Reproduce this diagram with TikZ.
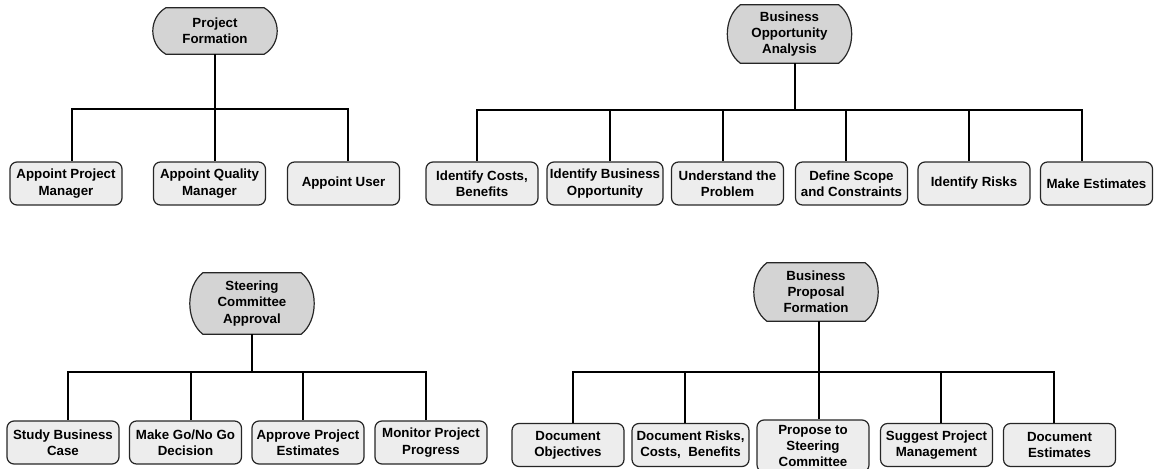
\documentclass[tikz,border=0pt]{standalone}
\usepackage{fontspec}
\setmainfont{Liberation Sans}
\usetikzlibrary{calc,backgrounds}

\definecolor{boxfill}{HTML}{EDEDED}
\definecolor{headfill}{HTML}{D4D4D4}

\tikzset{
  txt/.style={font=\fontsize{13.3}{16.2}\selectfont\bfseries, align=center, inner sep=0pt},
  task/.style={txt, draw=black!85, line width=1.2pt, fill=boxfill, rounded corners=7pt,
               minimum width=112pt, minimum height=43pt},
  head/.style={txt, minimum width=124pt},
  headline/.style={draw=black!85, line width=1.2pt, fill=headfill},
  conn/.style={line width=2.4pt, line join=miter, line cap=butt}
}

% flat-topped outline with bulging sides around a head node
\newcommand\headshape[2][13pt]{%
  \path[headline] let \p1=(#2.north west), \p2=(#2.south east), \n1={0.22*(\y1-\y2)} in
    (\x1+#1,\y1) -- (\x2-#1,\y1)
    .. controls (\x2+#1/3,\y1-\n1) and (\x2+#1/3,\y2+\n1) .. (\x2-#1,\y2)
    -- (\x1+#1,\y2)
    .. controls (\x1-#1/3,\y2+\n1) and (\x1-#1/3,\y1-\n1) .. cycle;}

\begin{document}
\begin{tikzpicture}[x=1pt,y=-1pt]
\useasboundingbox (0,0) rectangle (1155,468);

% ---------- Project Formation ----------
\node[head, minimum height=46pt] (h1) at (215,31) {Project\\Formation};
\node[task] (a1) at (66,183.5)  {Appoint Project\\Manager};
\node[task] (a2) at (209.5,183.5) {Appoint Quality\\Manager};
\node[task] (a3) at (343.5,183.5) {Appoint User};

% ---------- Business Opportunity Analysis ----------
\node[head, minimum height=58pt] (h2) at (789.5,34) {Business\\Opportunity\\Analysis};
\node[task] (b1) at (482,183.5)   {Identify Costs,\\Benefits};
\node[task, minimum width=116pt] (b2) at (605,183.5) {Identify Business\\Opportunity};
\node[task] (b3) at (727.5,183.5) {Understand the\\Problem};
\node[task] (b4) at (851.5,183.5) {Define Scope\\and Constraints};
\node[task] (b5) at (974,183.5)   {Identify Risks};
\node[task] (b6) at (1096.5,183.5) {Make Estimates};

% ---------- Steering Committee Approval ----------
\node[head, minimum height=61pt] (h3) at (252,303.5) {Steering\\Committee\\Approval};
\node[task] (c1) at (63,442.5)    {Study Business\\Case};
\node[task] (c2) at (185.5,442.5) {Make Go/No Go\\Decision};
\node[task] (c3) at (308,442.5)   {Approve Project\\Estimates};
\node[task] (c4) at (431,442.5)   {Monitor Project\\Progress};

% ---------- Business Proposal Formation ----------
\node[head, minimum height=58pt] (h4) at (816,292) {Business\\Proposal\\Formation};
\node[task] (d1) at (568,445)    {Document\\Objectives};
\node[task, minimum width=117pt] (d2) at (690.5,445) {Document Risks,\\Costs,\ \ Benefits};
\node[task, minimum height=52pt] (d3) at (813,446) {Propose to\\Steering\\Committee};
\node[task] (d4) at (936.5,445)  {Suggest Project\\Management};
\node[task] (d5) at (1059.5,445) {Document\\Estimates};

% head outlines behind their labels
\begin{pgfonlayer}{background}
  \headshape{h1}
  \headshape{h2}
  \headshape{h3}
  \headshape{h4}
\end{pgfonlayer}

% ---------- connectors ----------
\foreach \c/\dx in {a1/6, a2/5.5, a3/4.5}
  \draw[conn] (h1.south) |- ([xshift=\dx pt]\c.north |- 0,109) -- ([xshift=\dx pt]\c.north);

\foreach \c/\dx in {b1/-5, b2/5, b3/-4.5, b4/-5.5, b5/-5, b6/-14.5}
  \draw[conn] ([xshift=5.5pt]h2.south) |- ([xshift=\dx pt]\c.north |- 0,110) -- ([xshift=\dx pt]\c.north);

\foreach \c/\dx in {c1/5, c2/5.5, c3/-5, c4/-5}
  \draw[conn] (h3.south) |- ([xshift=\dx pt]\c.north |- 0,372) -- ([xshift=\dx pt]\c.north);

\foreach \c/\dx in {d1/5, d2/-5.5, d3/6, d4/4.5, d5/-5.5}
  \draw[conn] ([xshift=3pt]h4.south) |- ([xshift=\dx pt]\c.north |- 0,372) -- ([xshift=\dx pt]\c.north);

\end{tikzpicture}
\end{document}
